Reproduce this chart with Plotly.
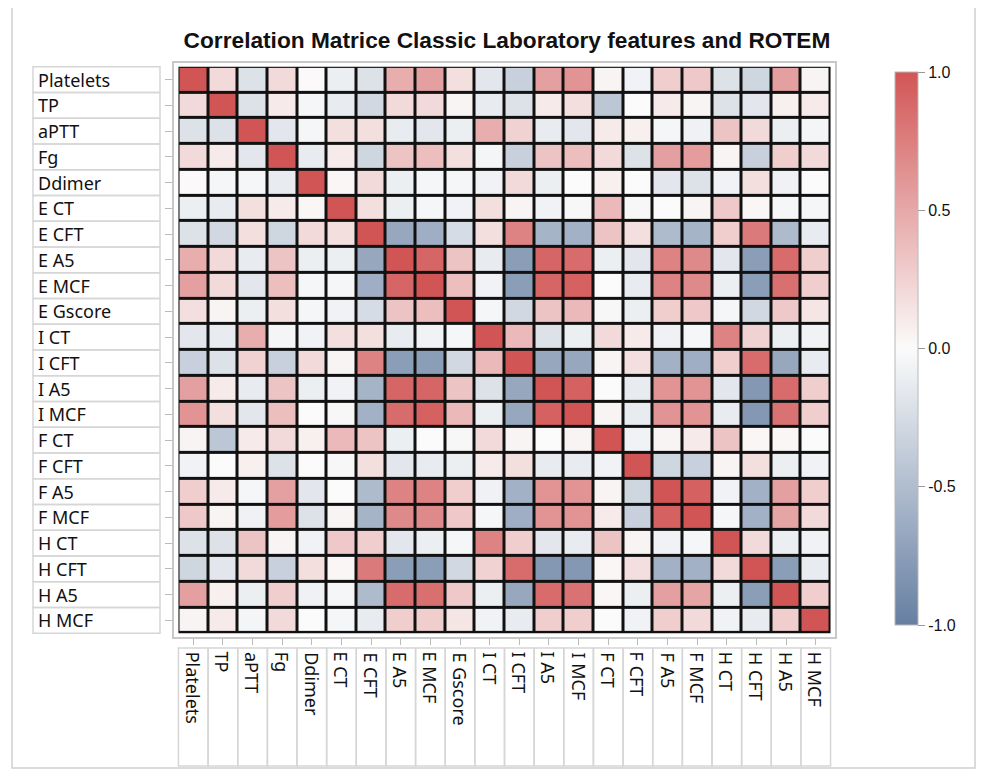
import plotly.graph_objects as go

labels = ["Platelets", "TP", "aPTT", "Fg", "Ddimer", "E CT", "E CFT", "E A5", "E MCF",
          "E Gscore", "I CT", "I CFT", "I A5", "I MCF", "F CT", "F CFT", "F A5", "F MCF",
          "H CT", "H CFT", "H A5", "H MCF"]

# correlation rows, one per variable
platelets = [1.0, 0.2, -0.2, 0.2, 0.01, -0.1, -0.2, 0.47, 0.55, 0.17, -0.16, -0.35, 0.55, 0.62, 0.04, -0.07, 0.27, 0.3, -0.2, -0.3, 0.55, 0.04]
tp = [0.2, 1.0, -0.2, 0.1, -0.04, -0.13, -0.28, 0.2, 0.2, 0.04, -0.13, -0.2, 0.1, 0.17, -0.42, 0.0, 0.1, 0.04, -0.2, -0.16, 0.07, 0.1]
aptt = [-0.2, -0.2, 1.0, -0.16, -0.04, 0.17, 0.17, -0.13, -0.16, -0.1, 0.47, 0.25, -0.13, -0.16, 0.1, 0.07, -0.04, -0.08, 0.33, 0.2, -0.1, -0.05]
fg = [0.2, 0.1, -0.16, 1.0, -0.13, 0.1, -0.3, 0.33, 0.37, 0.17, -0.05, -0.35, 0.33, 0.37, 0.2, -0.2, 0.55, 0.57, 0.04, -0.35, 0.27, 0.2]
ddimer = [0.01, -0.04, -0.04, -0.13, 1.0, 0.03, 0.2, -0.1, -0.04, -0.04, -0.07, 0.2, -0.1, 0.0, 0.07, 0.0, -0.16, -0.2, -0.07, 0.17, -0.08, 0.0]
e_ct = [-0.1, -0.13, 0.17, 0.1, 0.03, 1.0, 0.17, -0.1, -0.04, -0.07, 0.17, 0.04, -0.07, -0.03, 0.4, -0.03, 0.0, 0.04, 0.3, 0.03, -0.04, -0.04]
e_cft = [-0.2, -0.28, 0.17, -0.3, 0.2, 0.17, 1.0, -0.68, -0.62, -0.25, 0.17, 0.72, -0.57, -0.6, 0.33, 0.17, -0.52, -0.57, 0.27, 0.78, -0.52, -0.13]
e_a5 = [0.47, 0.2, -0.13, 0.33, -0.1, -0.1, -0.68, 1.0, 0.9, 0.33, -0.13, -0.75, 0.9, 0.86, -0.1, -0.16, 0.72, 0.68, -0.16, -0.75, 0.86, 0.27]
e_mcf = [0.55, 0.2, -0.16, 0.37, -0.04, -0.04, -0.62, 0.9, 1.0, 0.37, -0.07, -0.75, 0.9, 0.93, 0.0, -0.13, 0.72, 0.68, -0.1, -0.75, 0.84, 0.27]
e_gscore = [0.17, 0.04, -0.1, 0.17, -0.04, -0.07, -0.25, 0.33, 0.37, 1.0, -0.04, -0.28, 0.33, 0.4, -0.03, -0.1, 0.27, 0.3, -0.04, -0.28, 0.3, 0.13]
i_ct = [-0.16, -0.13, 0.47, -0.05, -0.07, 0.17, 0.17, -0.13, -0.07, -0.04, 1.0, 0.4, -0.2, -0.1, 0.2, 0.1, -0.08, -0.04, 0.72, 0.25, -0.1, -0.07]
i_cft = [-0.35, -0.2, 0.25, -0.35, 0.2, 0.04, 0.72, -0.75, -0.75, -0.28, 0.4, 1.0, -0.68, -0.68, 0.04, 0.17, -0.6, -0.62, 0.27, 0.86, -0.68, -0.13]
i_a5 = [0.55, 0.1, -0.13, 0.33, -0.1, -0.07, -0.57, 0.9, 0.9, 0.33, -0.2, -0.68, 1.0, 0.93, 0.0, -0.13, 0.62, 0.62, -0.16, -0.8, 0.86, 0.27]
i_mcf = [0.62, 0.17, -0.16, 0.37, 0.0, -0.03, -0.6, 0.86, 0.93, 0.4, -0.1, -0.68, 0.93, 1.0, 0.04, -0.13, 0.62, 0.62, -0.13, -0.8, 0.82, 0.27]
f_ct = [0.04, -0.42, 0.1, 0.2, 0.07, 0.4, 0.33, -0.1, 0.0, -0.03, 0.2, 0.04, 0.0, 0.04, 1.0, -0.07, 0.04, 0.1, 0.33, 0.03, 0.03, 0.0]
f_cft = [-0.07, 0.0, 0.07, -0.2, 0.0, -0.03, 0.17, -0.16, -0.13, -0.1, 0.1, 0.17, -0.13, -0.13, -0.07, 1.0, -0.3, -0.35, 0.04, 0.17, -0.1, -0.07]
f_a5 = [0.27, 0.1, -0.04, 0.55, -0.16, 0.0, -0.52, 0.72, 0.72, 0.27, -0.08, -0.6, 0.62, 0.62, 0.04, -0.3, 1.0, 0.93, -0.07, -0.6, 0.55, 0.27]
f_mcf = [0.3, 0.04, -0.08, 0.57, -0.2, 0.04, -0.57, 0.68, 0.68, 0.3, -0.04, -0.62, 0.62, 0.62, 0.1, -0.35, 0.93, 1.0, -0.04, -0.6, 0.52, 0.2]
h_ct = [-0.2, -0.2, 0.33, 0.04, -0.07, 0.3, 0.27, -0.16, -0.1, -0.04, 0.72, 0.27, -0.16, -0.13, 0.33, 0.04, -0.07, -0.04, 1.0, 0.2, -0.1, -0.07]
h_cft = [-0.3, -0.16, 0.2, -0.35, 0.17, 0.03, 0.78, -0.75, -0.75, -0.28, 0.25, 0.86, -0.8, -0.8, 0.03, 0.17, -0.6, -0.6, 0.2, 1.0, -0.75, -0.13]
h_a5 = [0.55, 0.07, -0.1, 0.27, -0.08, -0.04, -0.52, 0.86, 0.84, 0.3, -0.1, -0.68, 0.86, 0.82, 0.03, -0.1, 0.55, 0.52, -0.1, -0.75, 1.0, 0.27]
h_mcf = [0.04, 0.1, -0.05, 0.2, 0.0, -0.04, -0.13, 0.27, 0.27, 0.13, -0.07, -0.13, 0.27, 0.27, 0.0, -0.07, 0.27, 0.2, -0.07, -0.13, 0.27, 1.0]

corr = [platelets, tp, aptt, fg, ddimer, e_ct, e_cft, e_a5, e_mcf, e_gscore, i_ct, i_cft,
        i_a5, i_mcf, f_ct, f_cft, f_a5, f_mcf, h_ct, h_cft, h_a5, h_mcf]

cbar_ticks = [-1, -0.5, 0, 0.5, 1]
cbar_text = ["-1.0", "-0.5", "0.0", "0.5", "1.0"]

OFF = 8  # page body margin
W, H = 987 - 2 * OFF, 762  # kept small enough that the page does not scroll
L, R, T, B = 174, 835, 63, 637  # plot area, page pixels


def px(xp):
    return (xp - L) / (R - L)


def py(yp):
    return (B - yp) / (B - T)


n = len(labels)
font = "Noto Sans, Open Sans, sans-serif"

fig = go.Figure(go.Heatmap(
    z=corr, x=list(range(n)), y=list(range(n)),
    zmin=-1, zmax=1, xgap=3, ygap=3,
    colorscale=[[0, "#667FA2"], [0.5, "#FBFBFB"], [1, "#D25555"]],
    colorbar=dict(x=px(895), xanchor="left", xpad=0, ypad=0, thickness=23,
                  len=553 / (B - T), y=py(348.5), yanchor="middle",
                  outlinecolor="#b8b8b8", outlinewidth=1,
                  tickvals=cbar_ticks, ticktext=cbar_text, ticks="outside",
                  ticklen=7, tickcolor="#999", tickfont=dict(size=16, color="#111",
                  family="Liberation Sans, Arial"))
))

shapes = [dict(type="rect", xref="x", yref="y", x0=-0.5, x1=n - 0.5, y0=-0.5, y1=n - 0.5,
               fillcolor="#111", line=dict(width=0), layer="below"),
          dict(type="rect", xref="paper", yref="paper", x0=px(12), x1=px(975), y0=py(H + OFF - 2), y1=py(7),
               line=dict(color="#cfcfcf", width=1.5))]
annotations = []
for i, name in enumerate(labels):
    # left label boxes
    shapes.append(dict(type="rect", xref="paper", yref="y", x0=px(33), x1=px(160),
                       y0=i - 0.5, y1=i + 0.5, line=dict(color="#d6d6d6", width=1.5)))
    annotations.append(dict(xref="paper", yref="y", x=px(36), y=i, text=name, showarrow=False,
                            xanchor="left", yanchor="middle", font=dict(size=18, color="#111", family=font)))
    # bottom label boxes
    shapes.append(dict(type="rect", xref="x", yref="paper", x0=i - 0.5, x1=i + 0.5,
                       y0=py(766), y1=py(648), line=dict(color="#d6d6d6", width=1.5)))
    annotations.append(dict(xref="x", yref="paper", x=i, y=py(650), text=name, showarrow=False,
                            textangle=90, xanchor="center", yanchor="top",
                            font=dict(size=18, color="#111", family=font)))

fig.update_layout(
    width=W, height=H,
    margin=dict(l=L - OFF, r=W + OFF - R, t=T - OFF, b=H + OFF - B, autoexpand=False),
    paper_bgcolor="white", plot_bgcolor="white",
    title=dict(text="<b>Correlation Matrice Classic Laboratory features and ROTEM</b>",
               xref="paper", x=px(507), xanchor="center", y=1 - (40 - OFF) / H, yanchor="middle",
               font=dict(size=22.7, color="#111", family="Liberation Sans, Arial")),
    xaxis=dict(range=[-0.65, n - 0.35], showgrid=False, zeroline=False, tickvals=list(range(n)),
               showticklabels=False, ticks="outside", ticklen=6, tickcolor="#bbb",
               showline=True, mirror=True, linecolor="#c8c8c8", linewidth=2),
    yaxis=dict(range=[n - 0.35, -0.65], showgrid=False, zeroline=False, tickvals=list(range(n)),
               showticklabels=False, ticks="outside", ticklen=7, tickcolor="#bbb",
               showline=True, mirror=True, linecolor="#c8c8c8", linewidth=2),
    shapes=shapes, annotations=annotations,
)

fig.write_html("out.html")
